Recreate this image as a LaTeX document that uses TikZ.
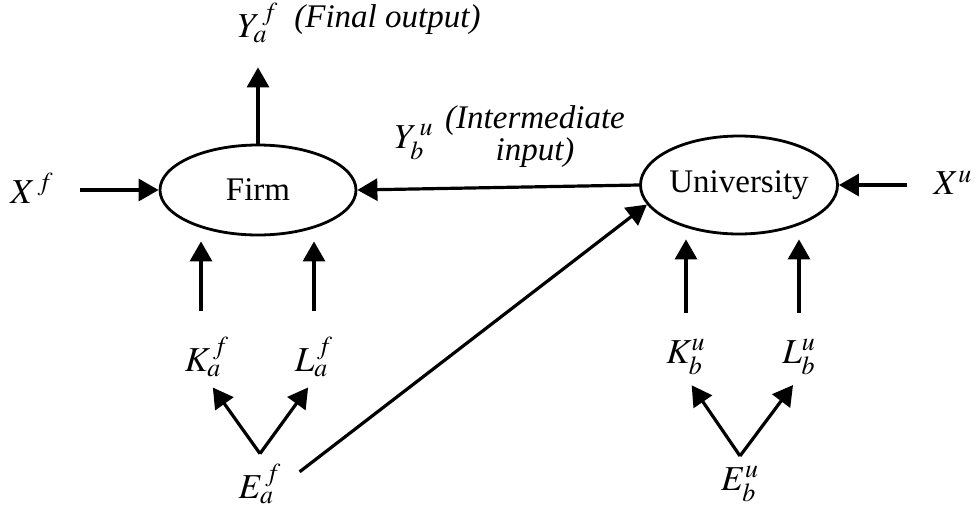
\documentclass[tikz,border=0pt]{standalone}
\usepackage{mathptmx}
\usepackage{fontspec}
\setmainfont{Liberation Serif}
\usetikzlibrary{arrows.meta,positioning,shapes.geometric}

\begin{document}
\begin{tikzpicture}[x=0.5pt,y=-0.5pt,
  font=\fontsize{16.5}{16}\selectfont,
  unit/.style={draw,ellipse,line width=1.4pt,inner sep=0pt},
  lbl/.style={inner sep=1pt,font=\fontsize{17.5}{19}\selectfont},
  note/.style={inner sep=1pt,font=\fontsize{16.5}{16}\selectfont\itshape},
  arr/.style={-{Triangle[length=10pt,width=11pt]},line width=1.6pt}]
  \useasboundingbox (0,0) rectangle (979,509);
  % producers
  \node[unit,minimum width=98pt,minimum height=45pt] (firm) at (258,190) {Firm\hspace{10pt}};
  \node[unit,minimum width=98pt,minimum height=49pt] (univ) at (739,185) {University};
  % outputs
  \node[lbl] (ya) at (258,23) {$Y_a^{\,f}$};
  \node[note,anchor=west] (yafin) at (292,20) {(Final output)};
  \node[lbl] (yb) at (414,142) {$Y_b^{\,u}$};
  \node[note,align=center] (ybint) at (535,137) {(Intermediate\\input)};
  % outside inputs
  \node[lbl] (xf) at (32,188) {$X^{\,f}$};
  \node[lbl] (xu) at (953,183) {$X^{u}$};
  % capital and labour
  \node[lbl] (ka) at (207,357) {$K_a^{\,f}$};
  \node[lbl] (la) at (314,357) {$L_a^{\,f}$};
  \node[lbl] (kb) at (686,357) {$K_b^{u}$};
  \node[lbl] (lb) at (799,357) {$L_b^{u}$};
  % effort
  \node[lbl] (ea) at (260,484) {$E_a^{\,f}$};
  \node[lbl] (eb) at (740,484) {$E_b^{u}$};
  \coordinate[above=4pt of ea] (eav);
  \coordinate[above=4pt of eb] (ebv);

  \draw[arr,shorten >=11pt] (firm.north) -- (firm.north |- ya.south);
  \draw[arr,shorten <=12pt] (xf.east |- firm.west) -- (firm.west);
  \draw[arr,shorten <=12pt] (xu.west |- univ.east) -- (univ.east);
  \draw[arr] (univ.west) -- (firm.east);
  \draw[arr,shorten <=10pt] (ea.east) -- (univ.192);
  \draw[arr,shorten <=12pt,shorten >=2.5pt] ([xshift=-3pt]ka.north) -- ([xshift=-3pt]ka.north |- firm.south);
  \draw[arr,shorten <=12pt,shorten >=2.5pt] (la.north) -- (la.north |- firm.south);
  \draw[arr,shorten <=12pt,shorten >=2pt] (kb.north) -- (kb.north |- univ.south);
  \draw[arr,shorten <=12pt,shorten >=2pt] (lb.north) -- (lb.north |- univ.south);
  \draw[arr,shorten >=5pt] (eav) -- (ka.south);
  \draw[arr,shorten >=5pt] (eav) -- (la.south);
  \draw[arr,shorten >=5pt] (ebv) -- (kb.south);
  \draw[arr,shorten >=5pt] (ebv) -- (lb.south);
\end{tikzpicture}
\end{document}
